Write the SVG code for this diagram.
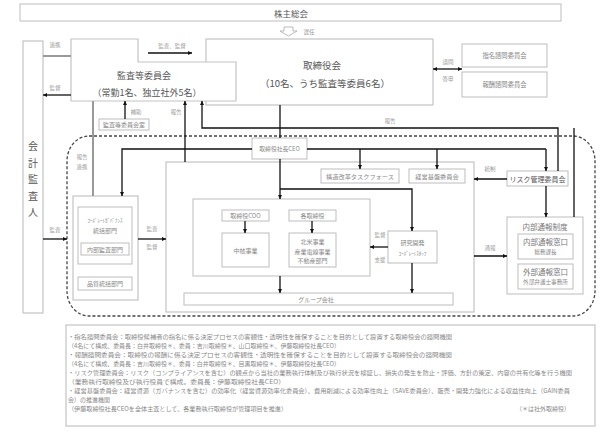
<svg xmlns="http://www.w3.org/2000/svg" width="614" height="440" viewBox="0 0 614 440">
<style>
text{font-family:"Noto Sans CJK JP","Noto Sans",sans-serif;dominant-baseline:central}
.box{fill:#fff;stroke:#bdbdbd;stroke-width:1}
.bx{fill:#fff;stroke:#c4c4c4;stroke-width:1.2}
.t{fill:#555;text-anchor:middle}
.s{fill:#888;text-anchor:middle;font-size:6px}
.lb{fill:#999;text-anchor:middle;font-size:5.5px}
.n{fill:#888;font-size:6px}
.c{fill:none;stroke:#111;stroke-width:1.3}
.ca{fill:none;stroke:#111;stroke-width:1.3;marker-end:url(#ah)}
.g{fill:none;stroke:#999;stroke-width:2}
</style>
<defs>
<marker id="ah" viewBox="0 0 6 6" refX="6" refY="3" markerWidth="4.5" markerHeight="4" orient="auto-start-reverse" markerUnits="userSpaceOnUse"><path d="M0,0L6,3L0,6z" fill="#111"/></marker>
</defs>

<g id="kabunushi-sokai"><rect class="box" x="20" y="4" width="541" height="17"/><text class="t" x="291" y="13" font-size="8.5">株主総会</text></g>
<g id="senin-arrow"><path d="M284,27 L293,27 L293,31 L297,31 L288.5,36 L280,31 L284,31 Z" fill="#fff" stroke="#aaa" stroke-width="0.8"/></g>

<g id="torishimariyakukai"><rect class="bx" x="206" y="39" width="227" height="66"/><text class="t" x="322" y="65" font-size="9.5">取締役会</text><text class="t" x="325" y="83" font-size="9.5">（10名、うち監査等委員6名）</text></g>
<g id="kansatou-iinkai"><path class="bx" d="M71,39 H138 V62 H236 V101 H71 Z"/><text class="t" x="144" y="75" font-size="9">監査等委員会</text><text class="t" x="147" y="92" font-size="9">（常勤1名、独立社外5名）</text></g>
<g id="kaikei-kansanin"><rect class="bx" x="23" y="41" width="20" height="272"/><text class="t" x="33" y="145" font-size="10">会</text><text class="t" x="33" y="162" font-size="10">計</text><text class="t" x="33" y="178" font-size="10">監</text><text class="t" x="33" y="195" font-size="10">査</text><text class="t" x="33" y="211" font-size="10">人</text></g>
<g id="kansa-shitsu"><rect class="box" x="99" y="119" width="50" height="11"/><text class="s" x="124" y="124.5" font-size="5.5">監査等委員会室</text></g>
<g id="shimei"><rect class="box" x="462" y="44" width="85" height="23"/><text class="s" x="504.5" y="55.5" style="font-size:6.3px">指名諮問委員会</text></g>
<g id="houshu"><rect class="box" x="462" y="72" width="85" height="25"/><text class="s" x="504.5" y="84.5" style="font-size:6.3px">報酬諮問委員会</text></g>

<g id="boundary"><rect x="67" y="136" width="528" height="180" rx="22" ry="25" fill="none" stroke="#444" stroke-width="1.3" stroke-dasharray="3,2"/></g>

<g id="ceo"><rect class="box" x="252" y="138" width="55" height="21"/><text class="s" x="279.5" y="148.5" style="font-size:5.8px">取締役社長CEO</text></g>
<g id="shikkou"><rect class="bx" x="166" y="162" width="308" height="150"/></g>
<g id="kouzou"><rect class="box" x="321" y="169" width="78" height="14"/><text class="s" x="360" y="176" style="font-size:6.2px">構造改革タスクフォース</text></g>
<g id="keiei"><rect class="box" x="409" y="169" width="56" height="14"/><text class="s" x="437" y="176" style="font-size:6.2px">経営基盤委員会</text></g>
<g id="risk"><rect class="box" x="507" y="171" width="61" height="15"/><text class="t" x="537.5" y="178.5" font-size="7" fill="#777">リスク管理委員会</text></g>
<g id="naibu-tsuho"><rect class="box" x="507" y="217" width="76" height="77"/><text class="t" x="545" y="226" font-size="7.5" style="fill:#777">内部通報制度</text>
<rect class="box" x="518" y="234" width="55" height="25"/><text class="t" x="545.5" y="241.5" font-size="7.5" style="fill:#777">内部通報窓口</text><text class="s" x="545.5" y="252" style="font-size:5.5px">総務課長</text>
<rect class="box" x="518" y="264" width="55" height="25"/><text class="t" x="545.5" y="271.5" font-size="7.5" style="fill:#777">外部通報窓口</text><text class="s" x="545.5" y="282" style="font-size:5.6px">外部弁護士事務所</text></g>
<g id="jigyo"><rect class="box" x="193" y="199" width="177" height="77"/></g>
<g id="coo"><rect class="box" x="222" y="210" width="47" height="11"/><text class="s" x="245.5" y="215.5">取締役COO</text></g>
<g id="chukaku"><rect class="box" x="222" y="233" width="47" height="34"/><text class="s" x="245.5" y="250">中核事業</text></g>
<g id="kaku-torishimariyaku"><rect class="box" x="289" y="210" width="47" height="11"/><text class="s" x="312.5" y="215.5">各取締役</text></g>
<g id="hokubei"><rect class="box" x="289" y="233" width="47" height="34"/><text class="s" x="312.5" y="241.5">北米事業</text><text class="s" x="312.5" y="251">産業電線事業</text><text class="s" x="312.5" y="260.5">不動産部門</text></g>
<g id="group"><rect class="box" x="184" y="293" width="269" height="12"/><text class="s" x="316" y="299">グループ会社</text></g>
<g id="kenkyu"><rect class="box" x="388" y="231" width="49" height="32"/><text class="s" x="412.5" y="242">研究開発</text><text class="s" x="412.5" y="252.5" style="font-size:5px">ｺｰﾎﾟﾚｰﾄｽﾀｯﾌ</text></g>
<g id="corporate"><rect class="bx" x="73" y="196" width="65" height="104"/><rect class="box" x="78" y="207" width="54" height="57"/><text class="s" x="105" y="219" style="font-size:5px">ｺｰﾎﾟﾚｰﾄｶﾞﾊﾞﾅﾝｽ</text><text class="s" x="105" y="230">統括部門</text>
<rect class="box" x="81" y="243" width="48" height="12"/><text class="s" x="105" y="249">内部監査部門</text>
<rect class="box" x="78" y="277" width="54" height="13"/><text class="s" x="105" y="283.5">品質統括部門</text></g>

<g id="connectors">
<line class="ca" x1="148" y1="53" x2="192" y2="53"/>
<line class="g" x1="43" y1="56" x2="71" y2="56"/>
<line class="ca" x1="71" y1="95" x2="43" y2="95"/>
<line class="g" x1="93" y1="101" x2="93" y2="196"/>
<line class="ca" x1="125" y1="119" x2="125" y2="101"/>
<line class="ca" x1="185" y1="162" x2="185" y2="101"/>
<path class="ca" d="M558,171 V128 H202 V101"/>
<line class="c" x1="574" y1="217" x2="574" y2="128"/>
<line class="c" x1="280" y1="105" x2="280" y2="138"/>
<line class="ca" x1="433" y1="69" x2="462" y2="69" style="marker-start:url(#ah)"/>
<path class="ca" d="M252,149 H122 V196"/>
<line class="c" x1="307" y1="149" x2="546" y2="149"/>
<line class="ca" x1="360" y1="149" x2="360" y2="169"/>
<line class="ca" x1="437" y1="149" x2="437" y2="169"/>
<line class="ca" x1="546" y1="149" x2="546" y2="171"/>
<line class="ca" x1="280" y1="159" x2="280" y2="199"/>
<path class="ca" d="M280,189 H412 V231"/>
<line class="ca" x1="507" y1="179" x2="474" y2="179"/>
<line class="ca" x1="546" y1="186" x2="546" y2="217"/>
<line class="ca" x1="474" y1="256" x2="507" y2="256"/>
<line class="ca" x1="245" y1="221" x2="245" y2="233"/>
<line class="ca" x1="312" y1="221" x2="312" y2="233"/>
<line class="ca" x1="280" y1="276" x2="280" y2="293"/>
<line class="ca" x1="412" y1="263" x2="412" y2="293"/>
<line class="ca" x1="388" y1="247" x2="370" y2="247"/>
<line class="ca" x1="43" y1="239" x2="67" y2="239"/>
<line class="ca" x1="138" y1="239" x2="166" y2="239"/>
</g>

<g id="labels">
<text class="lb" x="309" y="32">選任</text>
<text class="lb" x="172" y="46">監査、監督</text>
<text class="lb" x="55" y="45">連携</text>
<text class="lb" x="55" y="88">監督</text>
<text class="lb" x="136" y="112">補助</text>
<text class="lb" x="176" y="112">報告</text>
<text class="lb" x="390" y="121">報告</text>
<text class="lb" x="448" y="62">諮問</text>
<text class="lb" x="448" y="79">答申</text>
<text class="lb" x="82" y="157">報告</text>
<text class="lb" x="82" y="167">連携</text>
<text class="lb" x="55" y="230">監査</text>
<text class="lb" x="152" y="229">監査</text>
<text class="lb" x="152" y="247">監督</text>
<text class="lb" x="490" y="169">統制</text>
<text class="lb" x="490" y="248">通報</text>
<text class="lb" x="380" y="235">監督</text>
<text class="lb" x="380" y="260">支援</text>
</g>

<g id="notes"><rect class="bx" x="66" y="325" width="529" height="101"/>
<text class="n" x="68" y="336" textLength="384" lengthAdjust="spacingAndGlyphs">・指名諮問委員会：取締役候補者の指名に係る決定プロセスの客観性・透明性を確保することを目的として設置する取締役会の諮問機関</text>
<text class="n" x="68" y="345" textLength="272" lengthAdjust="spacingAndGlyphs">（4名にて構成、委員長：白井取締役＊、委員：吉川取締役＊、山口取締役＊、伊藤取締役社長CEO）</text>
<text class="n" x="68" y="354" textLength="384" lengthAdjust="spacingAndGlyphs">・報酬諮問委員会：取締役の報酬に係る決定プロセスの客観性・透明性を確保することを目的として設置する取締役会の諮問機関</text>
<text class="n" x="68" y="363" textLength="272" lengthAdjust="spacingAndGlyphs">（4名にて構成、委員長：吉川取締役＊、委員：白井取締役＊、目黒取締役＊、伊藤取締役社長CEO）</text>
<text class="n" x="68" y="372" textLength="504" lengthAdjust="spacingAndGlyphs">・リスク管理委員会：リスク（コンプライアンスを含む）の観点から当社の業務執行体制及び執行状況を検証し、損失の発生を防止・評価、方針の策定、内容の共有化等を行う機関</text>
<text class="n" x="68" y="381" textLength="217" lengthAdjust="spacingAndGlyphs">（業務執行取締役及び執行役員で構成。委員長：伊藤取締役社長CEO）</text>
<text class="n" x="68" y="390" textLength="502" lengthAdjust="spacingAndGlyphs">・経営基盤委員会：経営資源（ガバナンスを含む）の効率化（経営資源効率化委員会）、費用削減による効率性向上（SAVE委員会）、販売・開発力強化による収益性向上（GAIN委員</text>
<text class="n" x="68" y="399">会）の推進機関</text>
<text class="n" x="68" y="408" textLength="219" lengthAdjust="spacingAndGlyphs">（伊藤取締役社長CEOを全体主査として、各業務執行取締役が管理項目を推進）</text>
<text class="n" x="570" y="408" text-anchor="end">（＊は社外取締役）</text>
</g>
</svg>
